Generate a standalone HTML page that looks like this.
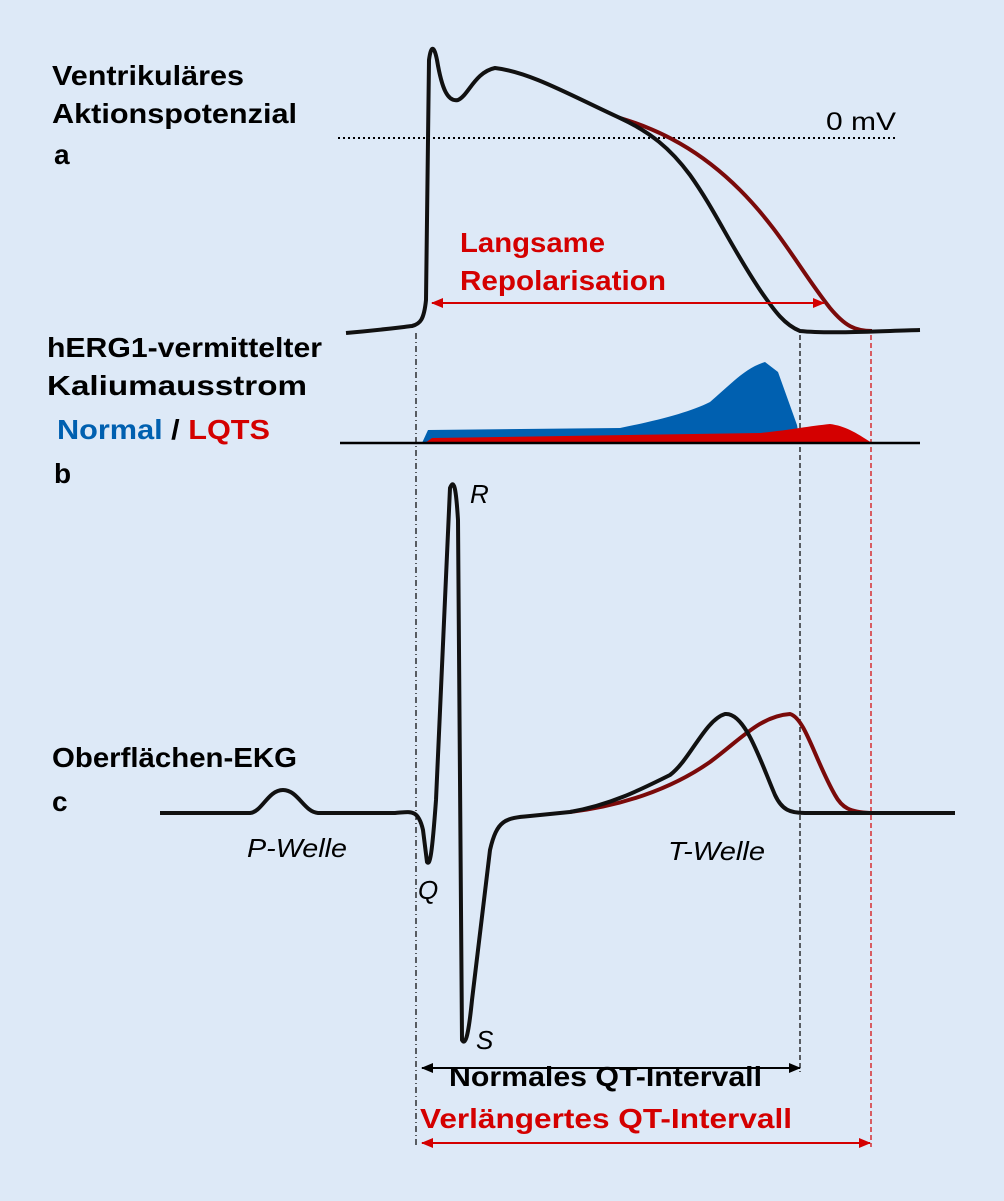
<!DOCTYPE html>
<html><head><meta charset="utf-8"><style>
html,body{margin:0;padding:0;background:#dde9f7;}
svg{display:block;font-family:"Liberation Sans",sans-serif;}
</style></head><body>
<svg width="1004" height="1201" viewBox="0 0 1004 1201">
<defs>
<marker id="ar" markerWidth="12" markerHeight="10" refX="11" refY="5" orient="auto-start-reverse" markerUnits="userSpaceOnUse"><path d="M0,0 L12,5 L0,10 Z" fill="#d40000"/></marker>
<marker id="ab" markerWidth="12" markerHeight="10" refX="11" refY="5" orient="auto-start-reverse" markerUnits="userSpaceOnUse"><path d="M0,0 L12,5 L0,10 Z" fill="#000"/></marker>
</defs>
<rect width="1004" height="1201" fill="#dde9f7"/>

<g font-weight="bold" font-size="28" fill="#000" lengthAdjust="spacingAndGlyphs">
<text x="52" y="85" textLength="192" lengthAdjust="spacingAndGlyphs">Ventrikuläres</text>
<text x="52" y="123" textLength="245" lengthAdjust="spacingAndGlyphs">Aktionspotenzial</text>
<text x="54" y="164">a</text>
<text x="47" y="357" textLength="275" lengthAdjust="spacingAndGlyphs">hERG1-vermittelter</text>
<text x="47" y="395" textLength="260" lengthAdjust="spacingAndGlyphs">Kaliumausstrom</text>
<text x="57" y="439" textLength="213" lengthAdjust="spacingAndGlyphs"><tspan fill="#0060b0">Normal</tspan> / <tspan fill="#d40000">LQTS</tspan></text>
<text x="54" y="483">b</text>
<text x="52" y="767" textLength="245" lengthAdjust="spacingAndGlyphs">Oberflächen-EKG</text>
<text x="52" y="811">c</text>
<text x="460" y="252" textLength="145" lengthAdjust="spacingAndGlyphs" fill="#d40000">Langsame</text>
<text x="460" y="290" textLength="206" lengthAdjust="spacingAndGlyphs" fill="#d40000">Repolarisation</text>
<text x="449" y="1086" textLength="313" lengthAdjust="spacingAndGlyphs">Normales QT-Intervall</text>
<text x="420" y="1128" textLength="372" lengthAdjust="spacingAndGlyphs" fill="#d40000">Verlängertes QT-Intervall</text>
</g>
<text x="826" y="130" font-size="25" textLength="70" lengthAdjust="spacingAndGlyphs">0 mV</text>
<g font-style="italic" font-size="26">
<text x="470" y="503">R</text>
<text x="418" y="899">Q</text>
<text x="476" y="1049">S</text>
<text x="247" y="857" textLength="100" lengthAdjust="spacingAndGlyphs">P-Welle</text>
<text x="668" y="860" textLength="97" lengthAdjust="spacingAndGlyphs">T-Welle</text>
</g>

<line x1="338" y1="138" x2="897" y2="138" stroke="#000" stroke-width="2" stroke-dasharray="2,3"/>

<line x1="416" y1="333" x2="416" y2="1147" stroke="#000" stroke-width="1.2" stroke-dasharray="6,3,1,3"/>
<line x1="800" y1="335" x2="800" y2="1072" stroke="#000" stroke-width="1.2" stroke-dasharray="5,3"/>
<line x1="871" y1="335" x2="871" y2="1147" stroke="#d40000" stroke-width="1.2" stroke-dasharray="5,3"/>

<path d="M620,118 C660,130 700,150 740,190 C780,230 800,270 830,308 C845,326 855,331 872,331" fill="none" stroke="#7a0a0a" stroke-width="4"/>
<path d="M346,333 C380,330 395,328 412,326 C420,324 424,320 426,300 L429,60 C431,45 434,45 437,60 C442,90 448,102 458,100 C468,96 475,72 495,68 C530,72 570,95 620,118 C650,132 670,148 690,175 C715,210 730,245 760,290 C775,312 785,325 800,331 C830,334 880,331 920,330" fill="none" stroke="#111" stroke-width="4"/>
<line x1="432" y1="303" x2="824" y2="303" stroke="#d40000" stroke-width="2" marker-start="url(#ar)" marker-end="url(#ar)"/>

<path d="M422,443 L428,430 L620,428 C660,420 690,412 710,402 C730,385 745,368 765,362 L778,372 L797,425 L800,443 Z" fill="#0060b0"/>
<path d="M425,443 L432,438 L760,433 C790,430 810,426 830,424 C845,426 855,432 872,443 Z" fill="#d40000"/>
<line x1="340" y1="443" x2="920" y2="443" stroke="#000" stroke-width="2.5"/>

<path d="M570,812 C620,806 670,790 710,762 C740,740 760,716 790,714 C805,718 815,760 835,795 C842,808 850,812 870,813" fill="none" stroke="#7a0a0a" stroke-width="4"/>
<path d="M160,813 L250,813 C262,812 268,790 283,790 C298,790 304,812 318,813 L395,813 C410,812 418,808 423,830 L427,862 C430,866 432,855 436,800 L450,488 C454,478 456,488 458,520 L462,1040 C465,1045 468,1040 472,1000 L490,850 C497,820 505,818 530,816 L570,812 C610,805 640,790 670,775 C690,760 705,720 725,714 C745,712 760,760 775,795 C782,810 790,813 805,813 L955,813" fill="none" stroke="#111" stroke-width="4" stroke-linejoin="round"/>

<line x1="422" y1="1068" x2="800" y2="1068" stroke="#000" stroke-width="2" marker-start="url(#ab)" marker-end="url(#ab)"/>
<line x1="422" y1="1143" x2="870" y2="1143" stroke="#d40000" stroke-width="2" marker-start="url(#ar)" marker-end="url(#ar)"/>
</svg>
</body></html>
